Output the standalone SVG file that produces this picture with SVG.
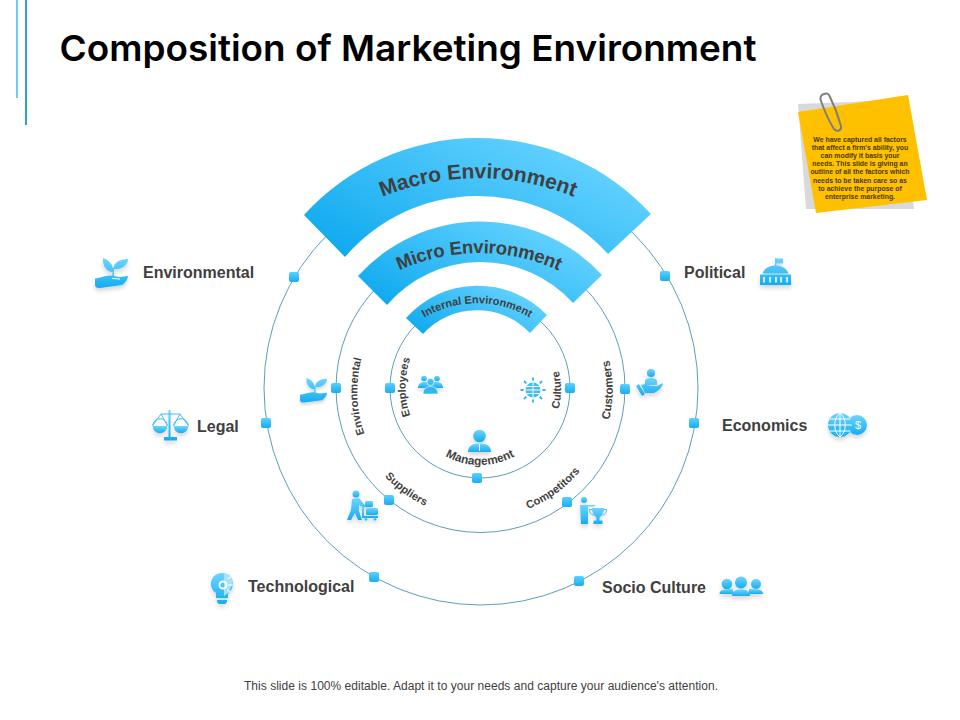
<svg xmlns="http://www.w3.org/2000/svg" xmlns:xlink="http://www.w3.org/1999/xlink" width="960" height="720" viewBox="0 0 960 720">
<style>
text{font-family:"Liberation Sans",Arial,sans-serif;font-weight:700;fill:#404040}
.lab{font-size:16px}
.sm{font-size:11px}
.ring{fill:none;stroke:#5b9fb8;stroke-width:1}
.dot{fill:url(#dg)}
.band{fill:url(#bg)}
.ic{fill:url(#ig);filter:url(#sh)}
.wl{fill:none;stroke:#fff;stroke-width:1}
.bl{fill:none;stroke:#3fbdf5;stroke-width:1}
.note{font-size:6.9px;fill:#4a3a08;text-anchor:middle}
</style>
<defs>
<linearGradient id="bg" x1="0" y1="1" x2="1" y2="0.3"><stop offset="0" stop-color="#08a6ee"/><stop offset="1" stop-color="#68d4ff"/></linearGradient>
<linearGradient id="dg" x1="0" y1="0" x2="0" y2="1"><stop offset="0" stop-color="#5ccfff"/><stop offset="1" stop-color="#16aef0"/></linearGradient>
<linearGradient id="ig" x1="0" y1="0" x2="0" y2="1"><stop offset="0" stop-color="#6ed4ff"/><stop offset="1" stop-color="#14adf0"/></linearGradient>
<filter id="sh" x="-20%" y="-20%" width="140%" height="150%"><feDropShadow dx="0" dy="3" stdDeviation="2" flood-color="#000" flood-opacity=".16"/></filter>
<path id="a1" d="M298 253A254 254 0 0 1 658 253"/>
<path id="a2" d="M344 309A191 191 0 0 1 614 309"/>
<path id="a3" d="M396 342A104 104 0 0 1 558 342"/>
<path id="l1" d="M369 445A130 130 0 0 1 365 347"/>
<path id="l2" d="M414 425A90 90 0 0 1 414 349"/>
<path id="l3" d="M556 418A80 80 0 0 0 556 362"/>
<path id="l4" d="M607 428A130 130 0 0 0 607 352"/>
<path id="l5" d="M436 450A72 72 0 0 0 524 450"/>
<path id="l6" d="M372.200 460.700A130 130 0 0 0 444.200 513"/>
<path id="l7" d="M515.800 513A130 130 0 0 0 587.800 460.700"/>
<g id="plant">
<path d="M18 14C12 14 7 8 8 0C14 2 19 7 18 14ZM18.500 11C18 5 25 1 33 1C33 7 27 12 18.500 11ZM17.500 10H19V19H17.500ZM0 20.500C5 20.500 10 17 16 17.500L24 19L33 18C33 22 29 26 27 27L5 30C1 30 0 29 0 26Z"/>
</g>
</defs>
<rect width="960" height="720" fill="#fff"/>
<rect x="16" y="0" width="2" height="98" fill="#6fcdec"/>
<rect x="25" y="0" width="2" height="125" fill="#2ea2cd"/>
<text x="59.500" y="61" style="font-family:Inter,'Liberation Sans',sans-serif;font-weight:600;fill:#000;font-size:36px" textLength="697" lengthAdjust="spacingAndGlyphs">Composition of Marketing Environment</text>

<g id="note">
<polygon points="798,104 900,100 914,209 806,209" fill="#d9d9d9"/>
<polygon points="798,112 908,95 927,200 816,213" fill="#ffc000"/>
<path d="M824 94C820 95 820 99 821 101C825 112 830 123 834 129C837 132 842 131 841 126C838 115 834 105 830 97C829 93 826 93 824 94Z" fill="none" stroke="#7f7f7f" stroke-width="2"/>
<text class="note" x="860" y="141.500">We have captured all factors</text>
<text class="note" x="860" y="149.700">that affect a firm's ability, you</text>
<text class="note" x="860" y="157.900">can modify it basis your</text>
<text class="note" x="860" y="166.100">needs. This slide is giving an</text>
<text class="note" x="860" y="174.300">outline of all the factors which</text>
<text class="note" x="860" y="182.500">needs to be taken care so as</text>
<text class="note" x="860" y="190.700">to achieve the purpose of</text>
<text class="note" x="860" y="198.900">enterprise marketing.</text>
</g>

<g id="connectors">
<circle class="ring" cx="481" cy="388" r="217"/>
<circle class="ring" cx="480.500" cy="388" r="144.500"/>
<circle class="ring" cx="480" cy="388" r="90"/>
</g>

<g id="macro">
<path class="band" d="M304 215A235 235 0 0 1 651 214L608 254A175 175 0 0 0 345 257Z"/>
<text style="font-size:21px" text-anchor="middle"><textPath href="#a1" xlink:href="#a1" startOffset="50%" textLength="196">Macro Environment</textPath></text>
</g>
<g id="micro">
<path class="band" d="M358 276A165 165 0 0 1 602 275L573 303A124 124 0 0 0 387 305Z"/>
<text style="font-size:18.500px" text-anchor="middle"><textPath href="#a2" xlink:href="#a2" startOffset="50%" textLength="164">Micro Environment</textPath></text>
</g>
<g id="internal">
<path class="band" d="M406 318A96 96 0 0 1 547 315L530 333A73 73 0 0 0 423 334Z"/>
<text class="sm" text-anchor="middle"><textPath href="#a3" xlink:href="#a3" startOffset="50%">Internal Environment</textPath></text>
</g>

<g id="n-env-outer"><rect class="dot" x="289" y="272" width="10" height="10" rx="2"/>
<use href="#plant" xlink:href="#plant" class="ic" transform="translate(95 258)"/>
<path class="wl" d="M112 278.500L120 279"/>
<text class="lab" x="143" y="278">Environmental</text></g>

<g id="n-legal"><rect class="dot" x="261" y="418" width="10" height="10" rx="2"/>
<g class="ic"><path d="M168.500 410H170.500V437H177V440.500H164V437H168.500Z"/><path d="M152.700 426H167.300A7.300 7.300 0 0 1 152.700 426ZM173.700 426H188.300A7.300 7.300 0 0 1 173.700 426Z"/></g>
<path class="bl" d="M152.700 426A7.300 7.300 0 0 1 167.300 426M173.700 426A7.300 7.300 0 0 1 188.300 426M153 425L161 414L167 425M174 425L180 414L188 425M161 414H180"/>
<text class="lab" x="197" y="432">Legal</text></g>

<g id="n-tech"><rect class="dot" x="369" y="572" width="10" height="10" rx="2"/>
<g class="ic"><path d="M222.500 573A10.800 10.800 0 0 0 216 593V598H228V593A10.800 10.800 0 0 0 222.500 573ZM217 600H227V602L225 604H219L217 602Z"/></g>
<path d="M224 574H229L233 582L229 592L224 596Z" fill="#a5e3fb"/>
<circle cx="223" cy="585" r="3.500" fill="none" stroke="#fff" stroke-width="2"/>
<path class="wl" d="M227 579L231 577M228 585H233M227 590L231 592"/>
<text class="lab" x="248" y="592">Technological</text></g>

<g id="n-socio"><rect class="dot" x="574" y="576" width="10" height="10" rx="2"/>
<g class="ic"><circle cx="727" cy="584" r="5.300"/><circle cx="756" cy="584" r="5"/><path d="M719.500 594C719.500 590 723 589 733 589V594ZM763 594C763 590 760 589 749 589V594Z"/><circle cx="741" cy="582.500" r="6"/><path d="M732 596C732 591 735 589.500 741 589.500C747 589.500 750 591 750 596Z"/></g>
<text class="lab" x="602" y="593">Socio Culture</text></g>

<g id="n-econ"><rect class="dot" x="689" y="418" width="10" height="10" rx="2"/>
<g class="ic"><circle cx="857" cy="425" r="10"/><circle cx="840" cy="425" r="12"/></g>
<path class="wl" d="M840 413V437M828 425H852M829.500 419H850.500M829.500 431H850.500M840 413C833 418 833 432 840 437M840 413C847 418 847 432 840 437"/>
<text x="858" y="429" style="font-size:11px;fill:#fff;font-weight:400" text-anchor="middle">$</text>
<text class="lab" x="722" y="431">Economics</text></g>

<g id="n-political"><rect class="dot" x="660" y="271" width="10" height="10" rx="2"/>
<g class="ic"><path d="M775 258H776.500V258.500L783 258.500V263.500H776.500V265.500C783 266 787 269 788.500 273.500H762.500C764 269 768 266 775 265.500ZM760 274.500H791V285H760Z"/></g>
<path d="M764 277V282.500M770 277V282.500M776 277V282.500M781 277V282.500M787 277V282.500" stroke="#fff" stroke-width="1.500" fill="none"/>
<text class="lab" x="684" y="278">Political</text></g>

<g id="n-env-mid"><rect class="dot" x="331" y="383" width="10" height="10" rx="2"/>
<use href="#plant" xlink:href="#plant" class="ic" transform="translate(300 378) scale(.82)"/>
<text class="sm" text-anchor="middle"><textPath href="#l1" xlink:href="#l1" startOffset="50%">Environmental</textPath></text></g>

<g id="n-customers"><rect class="dot" x="620" y="384" width="10" height="10" rx="2"/>
<g class="ic"><circle cx="651" cy="373" r="4"/><path d="M645 385V381C645 379 648 378 651 378C654 378 657 379 657 381V385ZM636 386L639 384L645 394L642 396ZM641 385C644 383 648 385 651 386L657 386L663 383C663 386 659 391 654 393L645 393Z"/></g>
<text style="font-size:11.600px" text-anchor="middle"><textPath href="#l4" xlink:href="#l4" startOffset="50%">Customers</textPath></text></g>

<g id="n-suppliers"><rect class="dot" x="384" y="495" width="10" height="10" rx="2"/>
<g class="ic"><circle cx="356" cy="494" r="3.500"/><path d="M352 499L359 498L363 503L366 506L364 508L359 505V511L362 520H358L355 513L351 520H347L351 510Z"/><rect x="365" y="501" width="8" height="6" rx="1.500"/><rect x="366" y="508" width="12" height="7" rx="1.500"/><path d="M362 507H364V516H378V518H362Z"/><circle cx="366" cy="519" r="1.500"/><circle cx="375" cy="519" r="1.500"/></g>
<text class="sm" text-anchor="middle"><textPath href="#l6" xlink:href="#l6" startOffset="50%">Suppliers</textPath></text></g>

<g id="n-competitors"><rect class="dot" x="562" y="497" width="10" height="10" rx="2"/>
<g class="ic"><circle cx="584" cy="500" r="3"/><path d="M580 505H595V506.500H588V524H581Z"/><path d="M592 508H604C604 513 602 516 599.500 517.500V520.500H602.500V524H593.500V520.500H596.500V517.500C594 516 592 513 592 508Z"/></g>
<path class="bl" d="M592 509.500H589.500C589.500 513 591 514.500 593.500 515M604 509.500H606.500C606.500 513 605 514.500 602.500 515"/>
<text class="sm" text-anchor="middle"><textPath href="#l7" xlink:href="#l7" startOffset="50%">Competitors</textPath></text></g>

<g id="n-employees"><rect class="dot" x="385" y="383" width="10" height="10" rx="2"/>
<g class="ic"><circle cx="424" cy="378.500" r="2.800"/><circle cx="437" cy="378.500" r="2.800"/><path d="M418 388C418 384 421 382 424 382H437C440 382 443 384 443 388Z"/></g>
<circle cx="430.500" cy="382" r="3.500" fill="#3fbdf5" stroke="#fff" stroke-width=".6"/>
<path d="M423 394C423 389 426 386.500 430.500 386.500C435 386.500 438 389 438 394Z" fill="#2fb6f3" stroke="#fff" stroke-width=".6"/>
<text class="sm" text-anchor="middle"><textPath href="#l2" xlink:href="#l2" startOffset="50%">Employees</textPath></text></g>

<g id="n-culture"><rect class="dot" x="565" y="383" width="10" height="10" rx="2"/>
<circle cx="533" cy="390" r="7.500" fill="#3cbdf6"/>
<path class="wl" stroke-width=".7" d="M533 382.500V397.500M525.500 390H540.500M526.500 386.500H539.500M526.500 393.500H539.500"/>
<path d="M533 377.500V380.500M533 399.500V402.500M520.500 390H523.500M542.500 390H545.500M524 381L526.300 383.300M539.700 396.700L542 399M542 381L539.700 383.300M526.300 396.700L524 399" fill="none" stroke="#2fb4f0" stroke-width="1.800"/>
<text class="sm" text-anchor="middle"><textPath href="#l3" xlink:href="#l3" startOffset="50%">Culture</textPath></text></g>

<g id="n-management"><rect class="dot" x="472" y="473" width="10" height="10" rx="2"/>
<g class="ic"><circle cx="479.500" cy="436" r="6.300"/><path d="M468 452C468 446 472 443.500 479.500 443.500C487 443.500 491 446 491 452Z"/></g>
<path d="M479.500 444V451" stroke="#fff" stroke-width="1"/>
<text style="font-size:11.800px" text-anchor="middle"><textPath href="#l5" xlink:href="#l5" startOffset="50%">Management</textPath></text></g>

<text x="244" y="690" style="font-size:12px;font-weight:400" textLength="474">This slide is 100% editable. Adapt it to your needs and capture your audience's attention.</text>
</svg>
